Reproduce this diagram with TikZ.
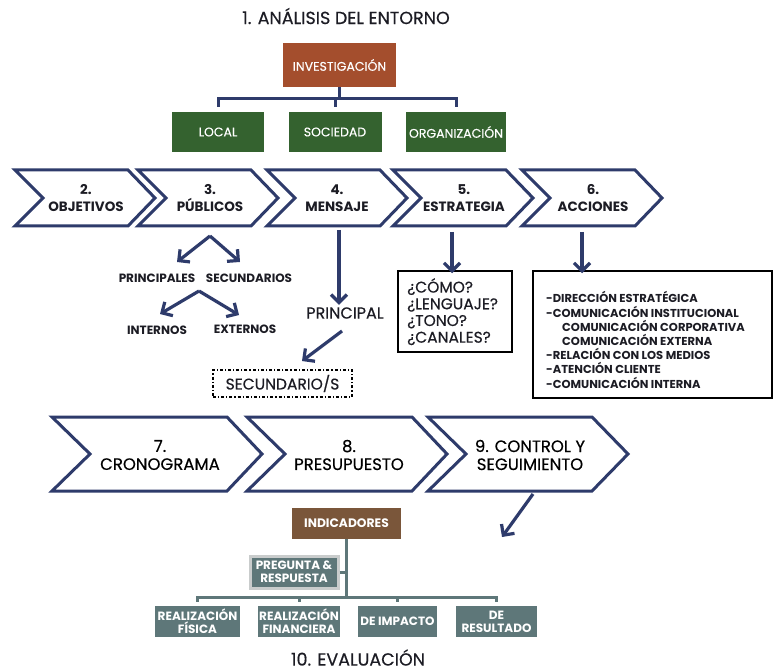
\documentclass[tikz,border=0pt]{standalone}
\usepackage{fontspec}
\setmainfont{Poppins}
\newfontfamily\medfont{Poppins}[FakeBold=0.35]
\usetikzlibrary{arrows.meta}
\definecolor{navy}{HTML}{2E3B6B}
\definecolor{rust}{HTML}{A44E2D}
\definecolor{dgreen}{HTML}{34622F}
\definecolor{brownbox}{HTML}{7A563A}
\definecolor{slate}{HTML}{5E7779}
\definecolor{glow}{HTML}{C9CCCC}
\definecolor{txt}{HTML}{1C1C24}
\newcommand\chevshape[6]{%
  \draw[chev] (#1,#2) -- ({#1+#3-#6},#2) -- ({#1+#3},{#2+#4/2}) -- ({#1+#3-#6},{#2+#4}) -- (#1,{#2+#4}) -- ({#1+#5},{#2+#4/2}) -- cycle;}
\begin{document}
\begin{tikzpicture}[x=1pt,y=-1pt,
  chev/.style={draw=navy,fill=white,line width=3pt,line join=miter},
  colbox/.style={fill=#1,text=white,inner sep=1pt,align=center,font=\medfont\fontsize{12.5}{14}\selectfont},
  greenbox/.style={colbox=dgreen,minimum height=40pt,font=\medfont\fontsize{12.5}{14}\selectfont},
  slatebox/.style={colbox=slate,minimum height=31pt,font=\bfseries\fontsize{12}{13}\selectfont},
  onetxt/.style={text=txt,align=center,font=\bfseries\fontsize{13.5}{17}\selectfont},
  threetxt/.style={text=black,align=center,font=\medfont\fontsize{16.5}{18}\selectfont},
  smalltxt/.style={text=txt,font=\bfseries\fontsize{12}{14}\selectfont},
  bigarrow/.style={draw=navy,line width=3.2pt,-{Straight Barb[length=8pt,width=16pt,line width=3.2pt]}},
  bracket/.style={draw=navy,line width=3pt},
  tree/.style={draw=slate,line width=3pt},
  heading/.style={text=txt,font=\medfont\fontsize{17.5}{19}\selectfont}]
\useasboundingbox[fill=white] (0,0) rectangle (774,671);

% ---------- top ----------
\node[heading] (t1) at (346,16) {1. ANÁLISIS DEL ENTORNO};
\node[colbox=rust,minimum width=113pt,minimum height=44pt] (inv) at (339.5,65) {INVESTIGACIÓN};
\node[greenbox,minimum width=92pt] (loc) at (218,132) {LOCAL};
\node[greenbox,minimum width=93pt] (soc) at (335,132) {SOCIEDAD};
\node[greenbox,minimum width=100pt] (org) at (456,132) {ORGANIZACIÓN};
\coordinate (bj) at (339.5,99);
\draw[bracket] (inv.south) -- (bj);
\draw[bracket] ([yshift=5pt]loc.north) |- (bj) -| ([yshift=5pt]org.north);
\draw[bracket] ([yshift=5pt]soc.north) -- (soc.north |- bj);

% ---------- row 1 chevrons ----------
\chevshape{15}{170}{140}{56}{28}{27}
\chevshape{138}{170}{140}{56}{28}{27}
\chevshape{267}{170}{140}{56}{28}{27}
\chevshape{393}{170}{140}{56}{28}{27}
\chevshape{522}{170}{140}{56}{28}{27}
\node[onetxt] (c2) at (86,198) {2.\\OBJETIVOS};
\node[onetxt] (c3) at (210,198) {3.\\PÚBLICOS};
\node[onetxt] (c4) at (337,198) {4.\\MENSAJE};
\node[onetxt] (c5) at (464,198) {5.\\ESTRATEGIA};
\node[onetxt] (c6) at (593,198) {6.\\ACCIONES};

% ---------- públicos ----------
\coordinate (pa) at (210,236);
\node[smalltxt] (prin) at (157,278) {PRINCIPALES};
\node[smalltxt] (secu) at (249,278) {SECUNDARIOS};
\node[smalltxt] (inte) at (157,330) {INTERNOS};
\node[smalltxt] (exte) at (245,329) {EXTERNOS};
\coordinate (pal) at (177,262);
\coordinate (par) at (240,262);
\coordinate (pb) at (199,291);
\coordinate (pbl) at (160,314);
\coordinate (pbr) at (239,315);
\draw[bigarrow] (pa) -- (pal);
\draw[bigarrow] (pa) -- (par);
\draw[bigarrow] (pb) -- (pbl);
\draw[bigarrow] (pb) -- (pbr);

% ---------- mensaje ----------
\coordinate (ma) at (339,230);
\node[text=txt,font=\medfont\fontsize{16}{18}\selectfont] (princ) at (345,313) {PRINCIPAL};
\draw[bigarrow] (ma) -- ([yshift=-1pt]princ.north -| ma);
\coordinate (mb) at (342,331);
\coordinate (mc) at (302,361);
\draw[bigarrow] (mb) -- (mc);
\node[draw=black,line width=1.2pt,dash dot,minimum width=139pt,minimum height=27pt,text=txt,font=\medfont\fontsize{15.5}{17}\selectfont] (sec) at (282.5,383.5) {SECUNDARIO/S};

% ---------- estrategia ----------
\coordinate (ea) at (452,232);
\node[draw=black,line width=1.5pt,minimum width=114pt,minimum height=81pt] (como) at (455,311.5) {};
\node[anchor=north west,text=txt,align=left,inner sep=0pt,font=\medfont\fontsize{15.5}{16.7}\selectfont] (comot) at (407,278) {¿CÓMO?\\¿LENGUAJE?\\¿TONO?\\¿CANALES?};
\draw[bigarrow] (ea) -- ([yshift=-3pt]como.north -| ea);

% ---------- acciones ----------
\coordinate (aa) at (582,232);
\node[draw=black,line width=1.5pt,minimum width=239pt,minimum height=127pt] (acc) at (652.5,334.5) {};
\node[anchor=north west,text=txt,align=left,inner sep=0pt,font=\bfseries\fontsize{11.5}{14.2}\selectfont] (acct) at (546,291.5) {%
-DIRECCIÓN ESTRATÉGICA\\
-COMUNICACIÓN INSTITUCIONAL\\
\hspace*{16pt}COMUNICACIÓN CORPORATIVA\\
\hspace*{16pt}COMUNICACIÓN EXTERNA\\
-RELACIÓN CON LOS MEDIOS\\
-ATENCIÓN CLIENTE\\
-COMUNICACIÓN INTERNA};
\draw[bigarrow] (aa) -- ([yshift=-3pt]acc.north -| aa);

% ---------- row 3 chevrons ----------
\chevshape{52}{417}{210}{74}{38}{35}
\chevshape{247}{417}{200}{74}{38}{35}
\chevshape{428}{417}{200}{74}{38}{36}
\node[threetxt] (c7) at (160,455) {7.\\CRONOGRAMA};
\node[threetxt] (c8) at (349,455) {8.\\PRESUPUESTO};
\node[threetxt] (c9) at (530,455) {9. CONTROL Y\\SEGUIMIENTO};

% ---------- evaluación ----------
\coordinate (ca) at (533,494);
\coordinate (cb) at (502,537);
\draw[bigarrow] (ca) -- (cb);
\node[colbox=brownbox,minimum width=109pt,minimum height=31pt,font=\bfseries\fontsize{12.3}{13}\selectfont] (ind) at (346.5,523.5) {INDICADORES};
\node[slatebox,minimum width=88pt,minimum height=32pt,draw=glow,line width=3pt] (preg) at (294,572) {PREGUNTA \&\\RESPUESTA};
\node[slatebox,minimum width=85pt] (b1) at (197.5,621.5) {REALIZACIÓN\\FÍSICA};
\node[slatebox,minimum width=82pt] (b2) at (299,621.5) {REALIZACIÓN\\FINANCIERA};
\node[slatebox,minimum width=79pt] (b3) at (397.5,621.5) {DE IMPACTO};
\node[slatebox,minimum width=81pt] (b4) at (496.5,621.5) {DE\\RESULTADO};
\coordinate (tj) at (346.5,597);
\draw[tree] (ind.south) -- (tj);
\draw[tree] (preg.east) -- (preg.east -| tj);
\draw[tree] ([yshift=4pt]b1.north) |- (tj) -| ([yshift=4pt]b4.north);
\draw[tree] ([yshift=4pt]b2.north) -- (b2.north |- tj);
\draw[tree] ([yshift=4pt]b3.north) -- (b3.north |- tj);
\node[heading,inner sep=1pt] (t10) at (358,657.5) {10. EVALUACIÓN};
\end{tikzpicture}
\end{document}
